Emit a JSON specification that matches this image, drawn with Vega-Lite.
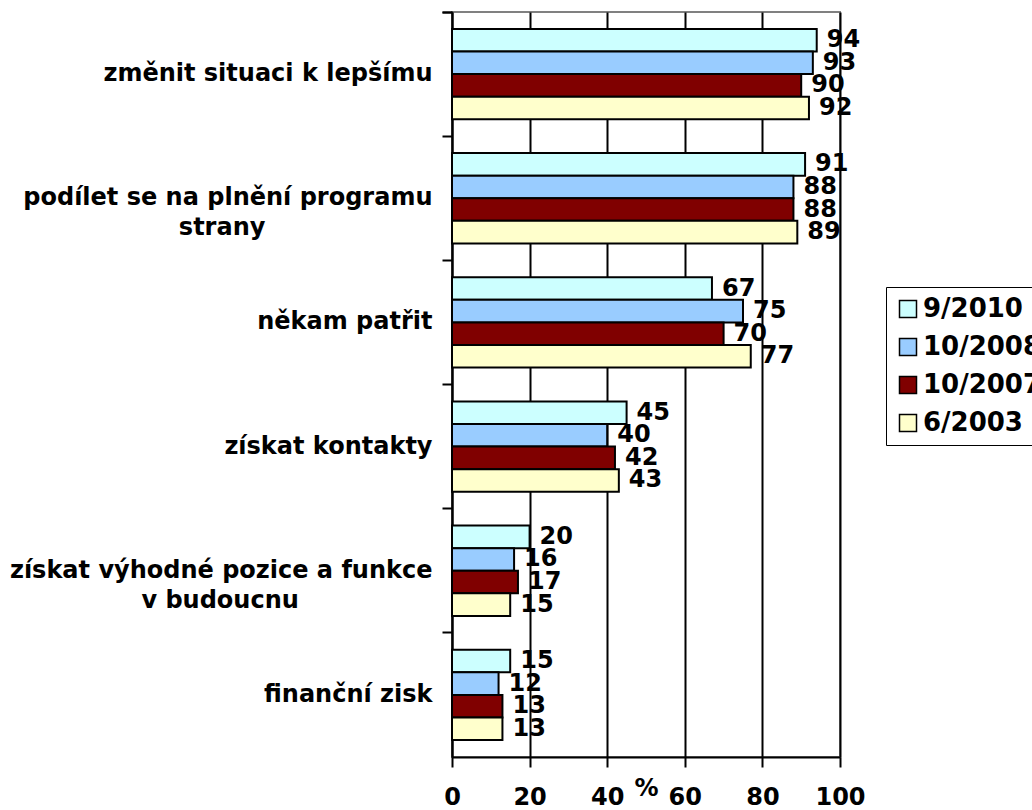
{
  "$schema": "https://vega.github.io/schema/vega-lite/v6.json",
  "width": 388,
  "height": 745,
  "autosize": {"type": "none"},
  "padding": {"left": 452, "top": 12, "right": 192, "bottom": 53},
  "background": "white",
  "config": {
    "font": "DejaVu Sans",
    "view": {"stroke": "#808080", "strokeWidth": 2}
  },
  "data": {
    "values": [
      {"item": "změnit situaci k lepšímu", "period": "9/2010", "pct": 94},
      {"item": "změnit situaci k lepšímu", "period": "10/2008", "pct": 93},
      {"item": "změnit situaci k lepšímu", "period": "10/2007", "pct": 90},
      {"item": "změnit situaci k lepšímu", "period": "6/2003", "pct": 92},
      {"item": "podílet se na plnění programu strany", "period": "9/2010", "pct": 91},
      {"item": "podílet se na plnění programu strany", "period": "10/2008", "pct": 88},
      {"item": "podílet se na plnění programu strany", "period": "10/2007", "pct": 88},
      {"item": "podílet se na plnění programu strany", "period": "6/2003", "pct": 89},
      {"item": "někam patřit", "period": "9/2010", "pct": 67},
      {"item": "někam patřit", "period": "10/2008", "pct": 75},
      {"item": "někam patřit", "period": "10/2007", "pct": 70},
      {"item": "někam patřit", "period": "6/2003", "pct": 77},
      {"item": "získat kontakty", "period": "9/2010", "pct": 45},
      {"item": "získat kontakty", "period": "10/2008", "pct": 40},
      {"item": "získat kontakty", "period": "10/2007", "pct": 42},
      {"item": "získat kontakty", "period": "6/2003", "pct": 43},
      {"item": "získat výhodné pozice a funkce v budoucnu", "period": "9/2010", "pct": 20},
      {"item": "získat výhodné pozice a funkce v budoucnu", "period": "10/2008", "pct": 16},
      {"item": "získat výhodné pozice a funkce v budoucnu", "period": "10/2007", "pct": 17},
      {"item": "získat výhodné pozice a funkce v budoucnu", "period": "6/2003", "pct": 15},
      {"item": "finanční zisk", "period": "9/2010", "pct": 15},
      {"item": "finanční zisk", "period": "10/2008", "pct": 12},
      {"item": "finanční zisk", "period": "10/2007", "pct": 13},
      {"item": "finanční zisk", "period": "6/2003", "pct": 13}
    ]
  },
  "encoding": {
    "y": {
      "field": "item",
      "type": "nominal",
      "sort": null,
      "scale": {"paddingInner": 0, "paddingOuter": 0},
      "axis": {
        "title": null,
        "bandPosition": 0,
        "tickExtra": true,
        "domainColor": "black",
        "domainWidth": 2,
        "tickColor": "black",
        "tickWidth": 2,
        "tickSize": 10,
        "labelFontSize": 24,
        "labelFontWeight": "bold",
        "labelColor": "black",
        "labelLimit": 0,
        "labelLineHeight": 30,
        "labelBaseline": "middle",
        "labelPadding": 10,
        "labelAlign": "right",
        "labelExpr": "datum.value == 'podílet se na plnění programu strany' ? ['podílet se na plnění programu', 'strany\u00a0\u00a0\u00a0\u00a0\u00a0\u00a0\u00a0\u00a0\u00a0\u00a0\u00a0\u00a0\u00a0\u00a0\u00a0\u00a0\u00a0\u00a0\u00a0\u00a0\u200b'] : datum.value == 'získat výhodné pozice a funkce v budoucnu' ? ['získat výhodné pozice a funkce', 'v budoucnu\u00a0\u00a0\u00a0\u00a0\u00a0\u00a0\u00a0\u00a0\u00a0\u00a0\u00a0\u00a0\u00a0\u00a0\u00a0\u00a0\u200b'] : datum.label"
      }
    },
    "yOffset": {
      "field": "period",
      "type": "nominal",
      "sort": ["9/2010", "10/2008", "10/2007", "6/2003"],
      "scale": {"paddingOuter": 0.75, "paddingInner": 0}
    },
    "x": {
      "field": "pct",
      "type": "quantitative",
      "scale": {"domain": [0, 100], "nice": false},
      "axis": {
        "values": [0, 20, 40, 60, 80, 100],
        "grid": true,
        "gridColor": "black",
        "gridWidth": 2,
        "gridOpacity": 1,
        "domainColor": "black",
        "domainWidth": 2,
        "tickColor": "black",
        "tickWidth": 2,
        "tickSize": 10,
        "labelFontSize": 24,
        "labelFontWeight": "bold",
        "labelColor": "black",
        "labelPadding": 18,
        "labelFlush": false,
        "title": "%",
        "titleFontSize": 24,
        "titleFontWeight": "bold",
        "titleColor": "black",
        "titleX": 194,
        "titleY": 31,
        "titleBaseline": "middle",
        "titleAlign": "center"
      }
    }
  },
  "layer": [
    {
      "mark": {"type": "bar", "stroke": "black", "strokeWidth": 2, "opacity": 1},
      "encoding": {
        "fill": {
          "field": "period",
          "type": "nominal",
          "sort": ["9/2010", "10/2008", "10/2007", "6/2003"],
          "scale": {
            "domain": ["9/2010", "10/2008", "10/2007", "6/2003"],
            "range": ["#CCFFFF", "#99CCFF", "#800000", "#FFFFCC"]
          },
          "legend": {
            "title": null,
            "orient": "none",
            "legendX": 434,
            "legendY": 275,
            "strokeColor": "black",
            "padding": 9,
            "symbolType": "square",
            "symbolSize": 289,
            "symbolStrokeColor": "black",
            "symbolStrokeWidth": 1.5,
            "symbolOpacity": 1,
            "labelFontSize": 26,
            "labelFontWeight": "bold",
            "labelColor": "black",
            "labelLimit": 0,
            "labelOffset": 2,
            "rowPadding": 12
          }
        }
      }
    },
    {
      "mark": {"type": "text", "align": "left", "baseline": "middle", "dx": 10, "fontSize": 24, "fontWeight": "bold", "color": "black"},
      "encoding": {"text": {"field": "pct", "type": "quantitative"}}
    }
  ]
}
